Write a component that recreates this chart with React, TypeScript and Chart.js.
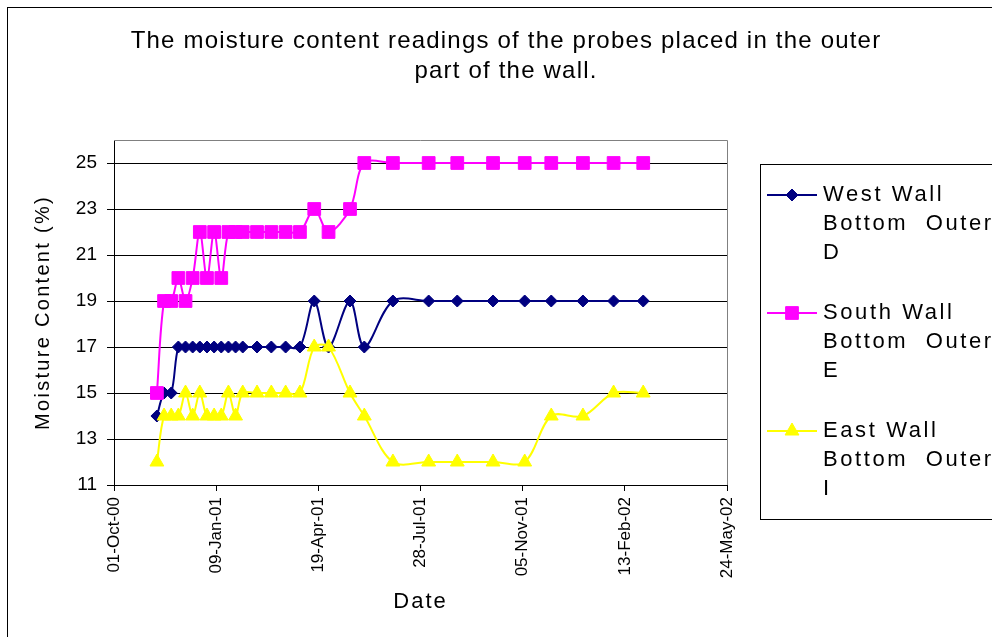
import React, { useEffect, useRef } from "react";
import { Chart, registerables } from "chart.js";

Chart.register(...registerables);

// ---- data ----
const sampleDates = [
  "2000-11-12", "2000-11-19", "2000-11-26", "2000-12-03", "2000-12-10", "2000-12-17",
  "2000-12-24", "2000-12-31", "2001-01-07", "2001-01-14", "2001-01-21", "2001-01-28",
  "2001-02-04", "2001-02-18", "2001-03-04", "2001-03-18", "2001-04-01", "2001-04-15",
  "2001-04-29", "2001-05-20", "2001-06-03", "2001-07-01", "2001-08-05", "2001-09-02",
  "2001-10-07", "2001-11-07", "2001-12-03", "2002-01-03", "2002-02-02", "2002-03-03",
];
const westWallD = [14, 15, 15, 17, 17, 17, 17, 17, 17, 17, 17, 17, 17, 17, 17, 17, 17, 19, 17, 19, 17, 19, 19, 19, 19, 19, 19, 19, 19, 19];
const southWallE = [15, 19, 19, 20, 19, 20, 22, 20, 22, 20, 22, 22, 22, 22, 22, 22, 22, 23, 22, 23, 25, 25, 25, 25, 25, 25, 25, 25, 25, 25];
const eastWallI = [12, 14, 14, 14, 15, 14, 15, 14, 14, 14, 15, 14, 15, 15, 15, 15, 15, 17, 17, 15, 14, 12, 12, 12, 12, 12, 14, 14, 15, 15];

const seriesNames = ["West Wall Bottom  Outer D", "South Wall Bottom  Outer E", "East Wall Bottom  Outer I"];
const legendLines = [
  ["West Wall", "Bottom  Outer", "D"],
  ["South Wall", "Bottom  Outer", "E"],
  ["East Wall", "Bottom  Outer", "I"],
];
const titleLines = ["The moisture content readings of the probes placed in the outer", "part of the wall."];
const yTitle = "Moisture Content (%)";
const xTitle = "Date";
const yTickValues = [11, 13, 15, 17, 19, 21, 23, 25];
const xTickDays = [0, 100, 200, 300, 400, 500, 600];
const originDate = "2000-10-01";

// ---- helpers ----
const MONTHS = ["Jan", "Feb", "Mar", "Apr", "May", "Jun", "Jul", "Aug", "Sep", "Oct", "Nov", "Dec"];
const toUTC = (s: string) => {
  const [y, m, d] = s.split("-").map(Number);
  return Date.UTC(y, m - 1, d);
};
const BASE = toUTC(originDate);
const DAY = 86400000;
const dayOf = (s: string) => Math.round((toUTC(s) - BASE) / DAY);
const pad = (n: number) => (n < 10 ? "0" + n : "" + n);
const fmtDay = (v: number) => {
  const d = new Date(BASE + v * DAY);
  return `${pad(d.getUTCDate())}-${MONTHS[d.getUTCMonth()]}-${pad(d.getUTCFullYear() % 100)}`;
};

const FONT = "'Liberation Sans', Arial, sans-serif";
const COLORS = ["#000080", "#FF00FF", "#FFFF00"];
const STYLES = ["rectRot", "rect", "triangle"];
const RADII = [6, 9, 8];

function drawMarker(ctx: CanvasRenderingContext2D, style: string, x: number, y: number, r: number, color: string) {
  ctx.save();
  ctx.fillStyle = color;
  ctx.strokeStyle = color;
  ctx.lineWidth = 1;
  ctx.beginPath();
  if (style === "rectRot") {
    ctx.moveTo(x, y - r);
    ctx.lineTo(x + r, y);
    ctx.lineTo(x, y + r);
    ctx.lineTo(x - r, y);
    ctx.closePath();
  } else if (style === "rect") {
    const s = r * Math.SQRT1_2;
    ctx.rect(x - s, y - s, 2 * s, 2 * s);
  } else {
    const a = Math.PI * 2 / 3;
    for (let i = 0; i < 3; i++) {
      const ang = i * a;
      const px = x + Math.sin(ang) * r;
      const py = y - Math.cos(ang) * r;
      if (i === 0) ctx.moveTo(px, py);
      else ctx.lineTo(px, py);
    }
    ctx.closePath();
  }
  ctx.fill();
  ctx.stroke();
  ctx.restore();
}

const decorPlugin = {
  id: "decor",
  afterDraw(chart: any) {
    const ctx: CanvasRenderingContext2D = chart.ctx;
    const a = chart.chartArea;
    ctx.save();
    // outer border
    ctx.strokeStyle = "#000";
    ctx.lineWidth = 1;
    ctx.strokeRect(7.5, 7.5, 3000, 3000);
    // plot frame (top / right)
    ctx.strokeStyle = "#808080";
    ctx.beginPath();
    ctx.moveTo(a.left, Math.round(a.top) + 0.5);
    ctx.lineTo(Math.round(a.right) + 0.5, Math.round(a.top) + 0.5);
    ctx.lineTo(Math.round(a.right) + 0.5, a.bottom);
    ctx.stroke();

    ctx.fillStyle = "#000";
    // title
    (ctx as any).letterSpacing = "1.2px";
    ctx.font = `24px ${FONT}`;
    ctx.textAlign = "center";
    ctx.textBaseline = "alphabetic";
    ctx.fillText(titleLines[0], 506, 48);
    ctx.fillText(titleLines[1], 506, 78);

    // x title
    (ctx as any).letterSpacing = "2px";
    ctx.font = `22px ${FONT}`;
    ctx.textBaseline = "middle";
    ctx.fillText(xTitle, (a.left + a.right) / 2, 602);

    // y title
    ctx.save();
    (ctx as any).letterSpacing = "2.3px";
    ctx.font = `20px ${FONT}`;
    ctx.translate(43, (a.top + a.bottom) / 2);
    ctx.rotate(-Math.PI / 2);
    ctx.fillText(yTitle, 0, 0);
    ctx.restore();

    // legend
    const lx = 760.5, ly = 164.5, lb = 519.5;
    ctx.strokeStyle = "#000";
    ctx.lineWidth = 1;
    ctx.strokeRect(lx, ly, 400, lb - ly);
    (ctx as any).letterSpacing = "2.6px";
    ctx.font = `22px ${FONT}`;
    ctx.textAlign = "left";
    ctx.textBaseline = "middle";
    legendLines.forEach((lines, i) => {
      const y0 = 195 + i * 118;
      ctx.strokeStyle = COLORS[i];
      ctx.lineWidth = 2;
      ctx.beginPath();
      ctx.moveTo(767, y0);
      ctx.lineTo(817, y0);
      ctx.stroke();
      drawMarker(ctx, STYLES[i], 792, y0, RADII[i], COLORS[i]);
      ctx.fillStyle = "#000";
      lines.forEach((t, j) => ctx.fillText(t, 823, y0 + j * 29));
    });
    ctx.restore();
  },
};

export default function App() {
  const ref = useRef<HTMLCanvasElement | null>(null);
  useEffect(() => {
    document.body.style.margin = "0";
    const canvas = ref.current;
    if (!canvas) return;
    const xs = sampleDates.map(dayOf);
    const mk = (vals: number[]) => vals.map((v, i) => ({ x: xs[i], y: v }));
    const series = [westWallD, southWallE, eastWallI];
    const chart = new Chart(canvas, {
      type: "line",
      data: {
        datasets: series.map((vals, i) => ({
          label: seriesNames[i],
          data: mk(vals),
          borderColor: COLORS[i],
          backgroundColor: COLORS[i],
          borderWidth: 2,
          tension: 0.33,
          pointStyle: STYLES[i] as any,
          pointRadius: RADII[i],
          pointBackgroundColor: COLORS[i],
          pointBorderColor: COLORS[i],
          pointBorderWidth: 1,
          order: 3 - i,
          fill: false,
        })),
      },
      options: {
        animation: false,
        responsive: false,
        devicePixelRatio: 1,
        layout: { padding: { top: 140, right: 265, left: 0, bottom: 0 } },
        plugins: { legend: { display: false }, title: { display: false }, tooltip: { enabled: false } },
        scales: {
          x: {
            type: "linear",
            min: 0,
            max: 600,
            afterBuildTicks: (s: any) => { s.ticks = xTickDays.map((v) => ({ value: v })); },
            afterFit: (s: any) => { s.height = 152; },
            ticks: {
              autoSkip: false,
              minRotation: 90,
              maxRotation: 90,
              padding: 6,
              color: "#000",
              font: { family: FONT, size: 17 },
              callback: (v: any) => fmtDay(Number(v)),
            },
            grid: { drawOnChartArea: false, drawTicks: true, tickLength: 6, color: "#000" },
            border: { display: true, color: "#000", width: 1 },
          },
          y: {
            type: "linear",
            min: 11,
            max: 26,
            afterBuildTicks: (s: any) => { s.ticks = yTickValues.map((v) => ({ value: v })); },
            afterFit: (s: any) => { s.width = 114; },
            ticks: {
              autoSkip: false,
              padding: 10,
              color: "#000",
              font: { family: FONT, size: 19 },
            },
            grid: { color: "#000", lineWidth: 1, tickLength: 7, drawTicks: true },
            border: { display: true, color: "#000", width: 1 },
          },
        },
      },
      plugins: [decorPlugin],
    });
    return () => chart.destroy();
  }, []);
  return (
    <div style={{ width: 992, height: 637, background: "#fff" }}>
      <canvas ref={ref} width={992} height={637} style={{ display: "block" }} />
    </div>
  );
}
